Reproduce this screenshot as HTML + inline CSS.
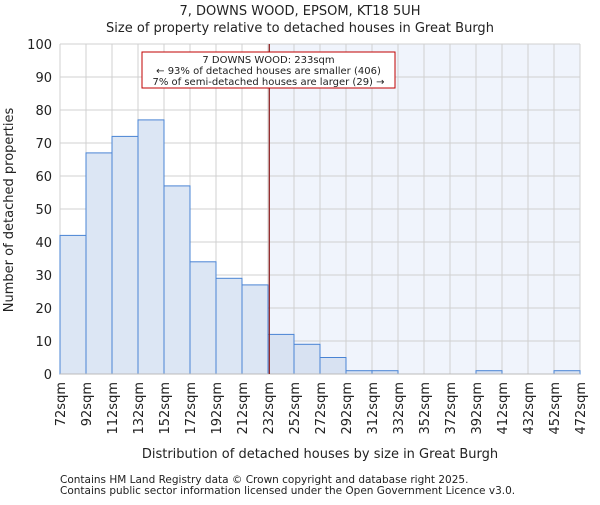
<!DOCTYPE html>
<html><head><meta charset="utf-8"><style>
body{margin:0;background:#fff;}
svg text{font-family:"DejaVu Sans","Liberation Sans",sans-serif;fill:#222;}
</style></head><body>
<svg id="chart" width="600" height="500" xmlns="http://www.w3.org/2000/svg">
<text x="300" y="15" text-anchor="middle" font-size="13">7, DOWNS WOOD, EPSOM, KT18 5UH</text>
<text x="300" y="32" text-anchor="middle" font-size="13">Size of property relative to detached houses in Great Burgh</text>
<g id="plot"></g>
<text x="320" y="458" text-anchor="middle" font-size="13">Distribution of detached houses by size in Great Burgh</text>
<text transform="translate(13,210) rotate(-90)" text-anchor="middle" font-size="13">Number of detached properties</text>
<text x="60" y="483" font-size="10.5" fill="#444">Contains HM Land Registry data © Crown copyright and database right 2025.</text>
<text x="60" y="494" font-size="10.5" fill="#444">Contains public sector information licensed under the Open Government Licence v3.0.</text>
</svg>
<script>
const binStarts=[72,92,112,132,152,172,192,212,232,252,272,292,312,332,352,372,392,412,432,452];
const counts=[42,67,72,77,57,34,29,27,12,9,5,1,1,0,0,0,1,0,0,1];
const yTicks=[0,10,20,30,40,50,60,70,80,90,100];
const xTickLabels=["72sqm","92sqm","112sqm","132sqm","152sqm","172sqm","192sqm","212sqm","232sqm","252sqm","272sqm","292sqm","312sqm","332sqm","352sqm","372sqm","392sqm","412sqm","432sqm","452sqm","472sqm"];
const subjectSize=233;
const binWidth=20;
const X0=60,X1=580,Y0=374,Y1=44;
const xMin=72,xMax=472,yMax=100;
const xs=v=>X0+(v-xMin)/(xMax-xMin)*(X1-X0);
const ys=v=>Y0-v/yMax*(Y0-Y1);
const NS="http://www.w3.org/2000/svg";
const g=document.getElementById('plot');
function el(t,a){const e=document.createElementNS(NS,t);for(const k in a)e.setAttribute(k,a[k]);g.appendChild(e);return e;}
const mx=xs(subjectSize);
let r=el('rect',{x:mx,y:Y1,width:X1-mx,height:Y0-Y1,fill:'#f0f4fc'});


yTicks.forEach(t=>{
 let l=el('line',{x1:X0,x2:X1,y1:ys(t),y2:ys(t),stroke:'#d0d0d0','stroke-width':1});
 
 
 let tx=el('text',{x:X0-8,y:ys(t)+5,'text-anchor':'end','font-size':13});
 tx.textContent=t;
 
 
});
xTickLabels.forEach((s,i)=>{
 const x=xs(xMin+i*binWidth);
 let l=el('line',{x1:x,x2:x,y1:Y1,y2:Y0,stroke:'#d0d0d0','stroke-width':1});
 
 
 let tx=el('text',{transform:`translate(${x+5},${Y0+8}) rotate(-90)`,'text-anchor':'end','font-size':13});
 tx.textContent=s;
 
 
});
binStarts.forEach((b,i)=>{
 if(counts[i]<=0)return;
 const x=xs(b),w=xs(b+binWidth)-x;
 let rr=el('rect',{x:x,y:ys(counts[i]),width:w,height:Y0-ys(counts[i]),fill:b>=subjectSize-1?'#d8e2f2':'#dce6f4',stroke:'#4a84d4','stroke-width':1});
 
 
});
let ax=el('line',{x1:X0,x2:X1,y1:Y0,y2:Y0,stroke:'#bbb'});


let ml=el('line',{x1:mx,x2:mx,y1:Y1,y2:Y0,stroke:'#8b1a1a','stroke-width':1.2});


let box=el('rect',{x:142,y:52,width:253,height:36,fill:'#fff',stroke:'#c00000','stroke-width':1});


const lines=["7 DOWNS WOOD: 233sqm","← 93% of detached houses are smaller (406)","7% of semi-detached houses are larger (29) →"];
lines.forEach((s,i)=>{
 let t=el('text',{x:268.5,y:63+i*11,'text-anchor':'middle','font-size':10});
 t.textContent=s;
 
 
});
</script>
</body></html>
